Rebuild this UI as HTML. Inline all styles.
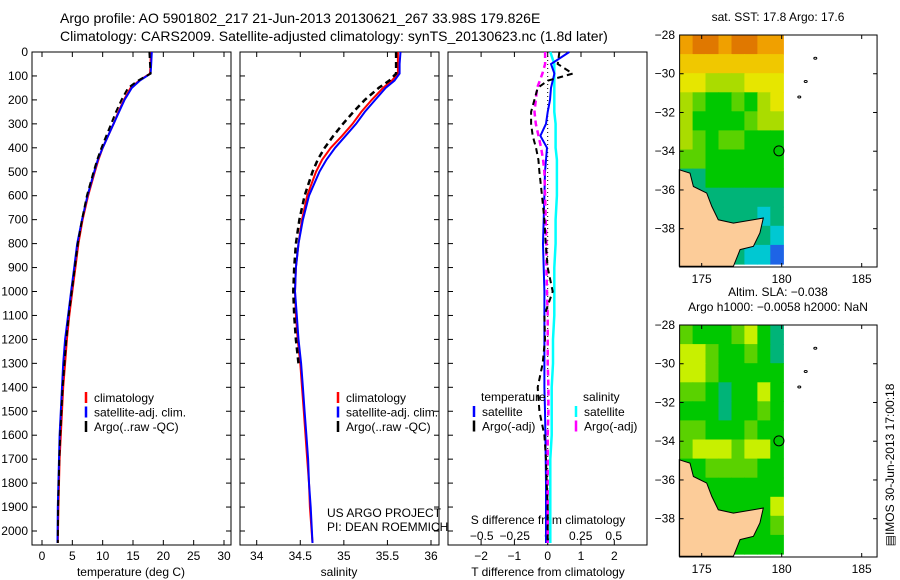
<!DOCTYPE html>
<html><head><meta charset="utf-8"><style>
html,body{margin:0;padding:0;background:#fff;}
svg{display:block;font-family:"Liberation Sans",sans-serif;}
</style></head><body>
<svg id="c" width="900" height="580" viewBox="0 0 900 580">
<text x="60" y="23" font-size="14">Argo profile: AO 5901802_217 21-Jun-2013 20130621_267 33.98S 179.826E</text>
<text x="60" y="41" font-size="14">Climatology: CARS2009. Satellite-adjusted climatology: synTS_20130623.nc (1.8d later)</text>
</svg>
<script>
const depths=[0,50,90,120,150,200,250,300,350,400,450,500,600,700,800,900,1000,1100,1200,1300,1400,1500,1600,1700,1800,1900,2050];
const tClim=[17.9,17.9,17.8,16.0,14.6,13.5,12.6,11.8,10.9,10.0,9.3,8.7,7.6,6.7,6.0,5.5,5.0,4.5,4.1,3.8,3.5,3.3,3.1,2.9,2.8,2.7,2.6];
const tSat =[18.1,18.0,17.9,16.1,14.8,13.6,12.7,11.8,10.9,10.0,9.2,8.6,7.5,6.6,5.8,5.3,4.8,4.3,3.8,3.5,3.3,3.1,2.9,2.8,2.7,2.6,2.55];
const tArgo=[17.7,17.8,17.9,15.8,14.2,13.1,12.2,11.4,10.6,9.8,9.1,8.5,7.4,6.6,5.9,5.4,4.9,4.4,4.0,3.7,3.4,3.2,3.0,2.85,2.75,2.65,2.6];
const sClim=[35.62,35.62,35.62,35.55,35.45,35.32,35.2,35.1,34.98,34.85,34.75,34.68,34.58,34.52,34.48,34.45,34.44,34.45,34.47,34.5,34.52,34.54,34.56,34.58,34.6,34.61,34.64];
const sSat =[35.65,35.64,35.64,35.58,35.48,35.36,35.24,35.14,35.02,34.9,34.8,34.72,34.6,34.53,34.48,34.45,34.44,34.46,34.48,34.51,34.53,34.55,34.57,34.59,34.6,34.62,34.64];
const sArgo=[35.6,35.6,35.6,35.52,35.4,35.24,35.11,34.99,34.88,34.78,34.7,34.64,34.55,34.49,34.45,34.43,34.42,34.43,34.45,34.48,null,null,null,null,null,null,null];
const dT_sat =[0.65,0.1,0.2,0.15,0.1,0.07,0.0,-0.05,-0.22,-0.02,-0.05,-0.08,-0.1,-0.12,-0.14,-0.12,-0.1,-0.1,-0.1,-0.1,-0.1,-0.08,-0.07,-0.06,-0.05,-0.05,-0.05];
const dT_argo=[0.35,0.3,0.75,0.0,-0.3,-0.4,-0.5,-0.5,-0.45,-0.35,-0.28,-0.25,-0.17,-0.1,-0.06,0,0.15,-0.1,-0.08,-0.15,-0.3,-0.25,-0.1,-0.05,-0.03,0,0.0];
const dS_sat =[0.02,0.05,0.05,0.05,0.05,0.05,0.05,0.06,0.06,0.06,0.07,0.07,0.07,0.06,0.06,0.05,0.05,0.05,0.04,0.04,0.03,0.03,0.03,0.02,0.02,0.02,0.02];
const dS_argo=[-0.02,-0.02,-0.04,-0.06,-0.08,-0.09,-0.1,-0.09,-0.07,-0.05,-0.035,-0.025,-0.02,-0.015,-0.01,-0.01,-0.005,0,0,0,0.005,0.005,0,0,0,0,0];
const depthTicks=[0,100,200,300,400,500,600,700,800,900,1000,1100,1200,1300,1400,1500,1600,1700,1800,1900,2000];
const tTicks=[0,5,10,15,20,25,30];
const sTicks=[34,34.5,35,35.5,36];
const sTickLabels=["34","34.5","35","35.5","36"];
const dTTicks=[-2,-1,0,1,2];
const dSTicks=[-0.5,-0.25,0,0.25,0.5];
const dSTickLabels=["\u22120.5","\u22120.25","0","0.25","0.5"];
const lonTicks=[175,180,185];
const latTicks=[-28,-30,-32,-34,-36,-38];
const sstGrid=[[8,9,9,8,9,9,8,8],[7,7,7,7,7,7,7,7],[6,6,5,5,5,6,6,6],[5,4,3,3,4,3,5,6],[5,3,3,3,3,4,5,5],[5,4,3,4,4,3,3,3],[4,4,3,3,3,3,3,3],[2,2,3,3,3,3,3,3],[2,2,2,2,2,2,2,2],[2,2,2,2,2,2,1,2],[1,2,2,2,2,2,2,1],[0,1,2,2,2,1,1,0]];
const slaGrid=[[4,3,3,3,4,5,3,2],[5,5,4,3,3,4,3,2],[5,5,4,3,3,3,3,3],[4,4,3,2,3,3,5,3],[3,3,3,2,3,3,4,3],[4,4,3,3,3,4,3,3],[4,5,5,5,4,5,5,3],[3,3,4,4,4,4,3,3],[3,3,3,3,3,3,3,3],[3,3,3,3,3,3,3,5],[3,3,3,3,3,3,3,4],[3,3,3,3,3,3,3,3]];
const landLon=[173.6,174.27,174.48,175.31,175.63,176.04,176.98,178.23,178.85,178.64,178.23,177.4,176.98,173.6];
const landLat=[-34.96,-35.13,-35.82,-36.16,-36.85,-37.54,-37.71,-37.54,-37.45,-38.22,-38.91,-39.08,-39.94,-39.94];
const argoLon=179.826, argoLat=-33.98;

const NS='http://www.w3.org/2000/svg';
const svg=document.getElementById('c');
function el(tag,attrs,parent){const e=document.createElementNS(NS,tag);for(const k in attrs)e.setAttribute(k,attrs[k]);(parent||svg).appendChild(e);return e;}
function txt(x,y,s,size,anchor,name){const t=el('text',{x:x,y:y,'font-size':size||12,'text-anchor':anchor||'start'});t.textContent=s;


return t;}

const Y0=52,Y1=545;
const yD=d=>Y0+d*(531-52)/2000;
function lin(d0,d1,p0,p1){return v=>p0+(v-d0)*(p1-p0)/(d1-d0);}

function panel(L,R,name){
  const g=el('g',{});
  
  
  el('rect',{x:L,y:Y0,width:R-L,height:Y1-Y0,fill:'none',stroke:'#000','stroke-width':1},g);
  return g;
}
function series(g,vals,xf,color,dash,w,name){
  let d='';let pen=false;
  vals.forEach((v,i)=>{if(v===null){pen=false;return;}d+=(pen?'L':'M')+xf(v).toFixed(1)+','+yD(depths[i]).toFixed(1);pen=true;});
  const p=el('path',{d:d,fill:'none',stroke:color,'stroke-width':w||2,'stroke-dasharray':dash||'none'},g);
  
  
}
function xticks(g,L,R,ticks,labels,xf,ly){
  ticks.forEach((t,i)=>{const x=xf(t);el('line',{x1:x,y1:Y1,x2:x,y2:Y1-5,stroke:'#000'},g);el('line',{x1:x,y1:Y0,x2:x,y2:Y0+5,stroke:'#000'},g);
    const lt=txt(x,ly,labels[i],12,'middle','x-tick-label');g.appendChild(lt);});
}
function legend(g,x,y,items){
  items.forEach((it,i)=>{const yy=y+i*14.5;el('line',{x1:x,y1:yy-10,x2:x,y2:yy+1,stroke:it[1],'stroke-width':2.5},g);g.appendChild(txt(x+8,yy,it[0],12,'start','legend-entry'));});
}

// Panel 1 temperature
const p1=panel(32,231,'temperature-panel');
const xT=lin(0,30,42,224);
depthTicks.forEach(d=>{const y=yD(d);el('line',{x1:32,y1:y,x2:37,y2:y,stroke:'#000'},p1);el('line',{x1:231,y1:y,x2:226,y2:y,stroke:'#000'},p1);p1.appendChild(txt(28,y+4,String(d),12,'end','depth-tick-label'));});
xticks(p1,32,231,tTicks,tTicks.map(String),xT,560);
p1.appendChild(txt(131,576,'temperature (deg C)',12,'middle','x-axis-title-temperature'));
series(p1,tClim,xT,'#f00',null,2,'temperature-climatology-line');
series(p1,tSat,xT,'#00f',null,2,'temperature-satellite-line');
series(p1,tArgo,xT,'#000','6,4',2,'temperature-argo-line');
legend(p1,86,402,[['climatology','#f00'],['satellite-adj. clim.','#00f'],['Argo(..raw -QC)','#000']]);

// Panel 2 salinity
const p2=panel(240,439,'salinity-panel');
const xS=lin(34,36,256.7,431);
depthTicks.forEach(d=>{const y=yD(d);el('line',{x1:240,y1:y,x2:245,y2:y,stroke:'#000'},p2);el('line',{x1:439,y1:y,x2:434,y2:y,stroke:'#000'},p2);});
xticks(p2,240,439,sTicks,sTickLabels,xS,560);
p2.appendChild(txt(339,576,'salinity',12,'middle','x-axis-title-salinity'));
series(p2,sClim,xS,'#f00',null,2,'salinity-climatology-line');
series(p2,sSat,xS,'#00f',null,2,'salinity-satellite-line');
series(p2,sArgo,xS,'#000','6,4',2.5,'salinity-argo-line');
legend(p2,338,402,[['climatology','#f00'],['satellite-adj. clim.','#00f'],['Argo(..raw -QC)','#000']]);
p2.appendChild(txt(327,517,'US ARGO PROJECT',12,'start','project-credit'));
p2.appendChild(txt(327,531,'PI: DEAN ROEMMICH',12,'start','pi-credit'));

// Panel 3 differences
const p3=panel(448,647,'difference-panel');
const xdT=lin(0,1,547.7,581);
const xdS=lin(0,1,547.7,679.7);
depthTicks.forEach(d=>{const y=yD(d);el('line',{x1:448,y1:y,x2:453,y2:y,stroke:'#000'},p3);});
dTTicks.forEach(t=>{const x=xdT(t);el('line',{x1:x,y1:Y1,x2:x,y2:Y1-5,stroke:'#000'},p3);el('line',{x1:x,y1:Y0,x2:x,y2:Y0+5,stroke:'#000'},p3);p3.appendChild(txt(x,560,t<0?'\u2212'+(-t):String(t),12,'middle','t-diff-tick-label'));});
dSTicks.forEach((t,i)=>{const x=xdS(t);p3.appendChild(txt(x,540,dSTickLabels[i],12,'middle','s-diff-tick-label'));});
p3.appendChild(txt(548,524,'S difference from climatology',12,'middle','s-diff-axis-title'));
p3.appendChild(txt(548,576,'T difference from climatology',12,'middle','t-diff-axis-title'));
el('line',{x1:547.7,y1:Y0,x2:547.7,y2:Y1,stroke:'#000','stroke-dasharray':'1,3'},p3);
series(p3,dS_sat,xdS,'#0ff',null,2.5,'salinity-satellite-diff-line');
series(p3,dT_sat,xdT,'#00f',null,2,'temperature-satellite-diff-line');
series(p3,dS_argo,xdS,'#f0f','6,4',2.5,'salinity-argo-diff-line');
series(p3,dT_argo,xdT,'#000','6,4',2,'temperature-argo-diff-line');
p3.appendChild(txt(481,401,'temperature',12,'start','legend-heading-temperature'));
p3.appendChild(txt(583,401,'salinity',12,'start','legend-heading-salinity'));
legend(p3,474,416,[['satellite','#00f'],['Argo(-adj)','#000']]);
legend(p3,576,416,[['satellite','#0ff'],['Argo(-adj)','#f0f']]);

// Maps
const sstPal=['#1e64e6','#00c8d2','#00b478','#00c800','#5ad200','#aadc00','#e6e600','#f0c800','#f0a000','#e07800'];
const slaPal=['#1e64e6','#00c8d2','#00b478','#00c800','#5ad200','#c8f000'];
function map(top,grid,pal,name,titles){
  const g=el('g',{});
  
  
  const xL=lin(175,185,701.7,861.7);
  const yL=lin(-28,-38,top,top+193.7);
  const bottom=top+232;
  const cL=xL(173.62),cR=xL(180.1),cB=top+229;
  const cw=(cR-cL)/grid[0].length,ch=(cB-top)/grid.length;
  grid.forEach((row,r)=>row.forEach((v,c)=>{const rc=el('rect',{x:(cL+c*cw).toFixed(1),y:(top+r*ch).toFixed(1),width:(cw+0.6).toFixed(1),height:(ch+0.6).toFixed(1),fill:pal[v]},g);
    
    }));
  const pts=landLon.map((lo,i)=>xL(lo).toFixed(1)+','+yL(landLat[i]).toFixed(1)).join(' ');
  const land=el('polygon',{points:pts,fill:'#fccc99',stroke:'#000','stroke-width':1},g);
  
  
  [[182.1,-29.2],[181.5,-30.4],[181.1,-31.2]].forEach(p=>el('ellipse',{cx:xL(p[0]),cy:yL(p[1]),rx:1.5,ry:1,fill:'none',stroke:'#000'},g));
  const ci=el('circle',{cx:xL(argoLon),cy:yL(argoLat),r:5,fill:'none',stroke:'#000'},g);
  
  
  el('rect',{x:cL,y:top,width:xL(185.96)-cL,height:bottom-top,fill:'none',stroke:'#000'},g);
  lonTicks.forEach(t=>{const x=xL(t);el('line',{x1:x,y1:bottom,x2:x,y2:bottom-4,stroke:'#000'},g);el('line',{x1:x,y1:top,x2:x,y2:top+4,stroke:'#000'},g);g.appendChild(txt(x,bottom+16,String(t),12,'middle','lon-tick-label'));});
  latTicks.forEach(t=>{const y=yL(t);el('line',{x1:cL,y1:y,x2:cL+4,y2:y,stroke:'#000'},g);el('line',{x1:xL(185.96),y1:y,x2:xL(185.96)-4,y2:y,stroke:'#000'},g);g.appendChild(txt(675,y+4,'\u2212'+(-t),12,'end','lat-tick-label'));});
  titles.forEach((s,i)=>g.appendChild(txt(778,top-14-(titles.length-1-i)*15,s,12,'middle','map-title')));
}
map(35,sstGrid,sstPal,'sst-map',['sat. SST: 17.8 Argo: 17.6']);
map(325,slaGrid,slaPal,'sla-map',['Altim. SLA: \u22120.038','Argo h1000: \u22120.0058 h2000: NaN']);
const v=txt(0,0,'\u25A4IMOS 30-Jun-2013 17:00:18',12,'middle','imos-timestamp');
v.setAttribute('transform','translate(894,465) rotate(-90)');
</script>
</body></html>
